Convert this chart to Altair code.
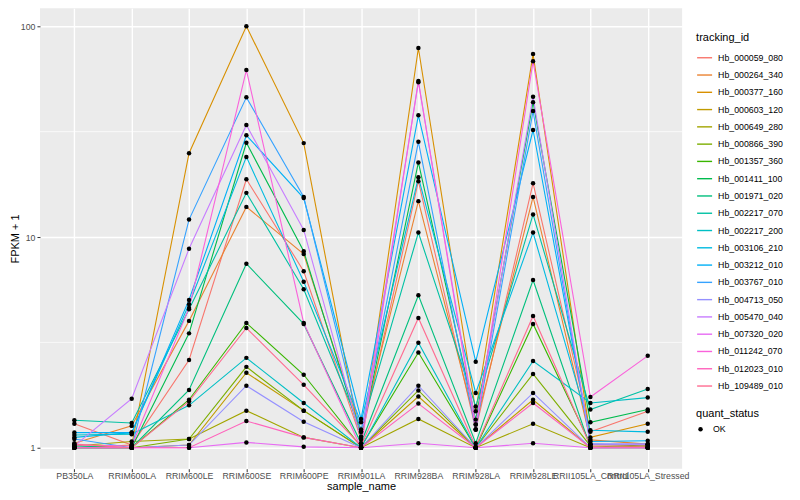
import altair as alt
import pandas as pd

samples = ["PB350LA", "RRIM600LA", "RRIM600LE", "RRIM600SE", "RRIM600PE", "RRIM901LA",
           "RRIM928BA", "RRIM928LA", "RRIM928LE", "RRII105LA_Control", "RRII105LA_Stressed"]

genes = ["Hb_000059_080", "Hb_000264_340", "Hb_000377_160", "Hb_000603_120", "Hb_000649_280",
         "Hb_000866_390", "Hb_001357_360", "Hb_001411_100", "Hb_001971_020", "Hb_002217_070",
         "Hb_002217_200", "Hb_003106_210", "Hb_003212_010", "Hb_003767_010", "Hb_004713_050",
         "Hb_005470_040", "Hb_007320_020", "Hb_011242_070", "Hb_012023_010", "Hb_109489_010"]

colors = ["#F8766D", "#EA8331", "#D89000", "#C09B00", "#A3A500", "#7CAE00", "#39B600", "#00BB4E",
          "#00BF7D", "#00C1A3", "#00BFC4", "#00BAE0", "#00B0F6", "#35A2FF", "#9590FF", "#C77CFF",
          "#E76BF3", "#FA62DB", "#FF62BC", "#FF6C91"]

# FPKM + 1 per sample (same order as samples)
hb_000059_080 = [1.30, 1.03, 2.61, 18.8, 6.88, 1.10, 18.4, 1.22, 18.0, 1.19, 1.49]
hb_000264_340 = [1.05, 1.27, 4.00, 13.9, 8.30, 1.19, 14.8, 1.29, 15.5, 1.09, 1.04]
hb_000377_160 = [1.00, 1.03, 25.0, 100.0, 27.9, 1.05, 78.9, 1.49, 73.8, 1.12, 1.30]
hb_000603_120 = [1.00, 1.00, 1.03, 2.27, 1.50, 1.00, 1.75, 1.00, 1.69, 1.00, 1.02]
hb_000649_280 = [1.02, 1.07, 1.10, 1.50, 1.12, 1.00, 1.37, 1.00, 1.30, 1.00, 1.00]
hb_000866_390 = [1.00, 1.00, 1.10, 2.42, 1.50, 1.00, 1.87, 1.00, 2.24, 1.02, 1.00]
hb_001357_360 = [1.00, 1.00, 1.69, 3.91, 2.22, 1.01, 2.83, 1.00, 3.87, 1.04, 1.02]
hb_001411_100 = [1.00, 1.00, 3.49, 28.0, 8.56, 1.13, 22.6, 1.36, 43.6, 1.32, 1.52]
hb_001971_020 = [1.02, 1.00, 1.88, 7.47, 3.87, 1.05, 5.29, 1.05, 6.25, 1.00, 1.00]
hb_002217_070 = [1.35, 1.31, 4.54, 16.2, 5.65, 1.22, 10.5, 1.57, 12.8, 1.52, 1.90]
hb_002217_200 = [1.15, 1.16, 1.59, 2.67, 1.63, 1.00, 3.15, 1.00, 2.58, 1.63, 1.73]
hb_003106_210 = [1.12, 1.18, 4.80, 24.0, 6.14, 1.32, 19.2, 1.82, 10.5, 1.21, 1.19]
hb_003212_010 = [1.18, 1.18, 5.03, 30.4, 15.3, 1.37, 37.8, 2.56, 32.2, 1.07, 1.08]
hb_003767_010 = [1.10, 1.00, 12.1, 46.0, 15.5, 1.19, 28.3, 1.22, 39.6, 1.04, 1.04]
hb_004713_050 = [1.00, 1.00, 1.03, 1.97, 1.33, 1.00, 1.97, 1.00, 1.82, 1.00, 1.00]
hb_005470_040 = [1.02, 1.71, 8.80, 34.0, 10.8, 1.10, 54.3, 1.29, 46.3, 1.04, 1.04]
hb_007320_020 = [1.00, 1.00, 1.00, 1.06, 1.01, 1.00, 1.05, 1.00, 1.05, 1.00, 1.00]
hb_011242_070 = [1.03, 1.02, 4.60, 62.0, 3.91, 1.00, 55.0, 1.22, 68.2, 1.74, 2.73]
hb_012023_010 = [1.00, 1.00, 1.00, 1.34, 1.12, 1.00, 1.62, 1.00, 1.63, 1.00, 1.00]
hb_109489_010 = [1.04, 1.00, 1.66, 3.70, 1.99, 1.02, 4.13, 1.01, 4.22, 1.02, 1.02]

series = [hb_000059_080, hb_000264_340, hb_000377_160, hb_000603_120, hb_000649_280,
          hb_000866_390, hb_001357_360, hb_001411_100, hb_001971_020, hb_002217_070,
          hb_002217_200, hb_003106_210, hb_003212_010, hb_003767_010, hb_004713_050,
          hb_005470_040, hb_007320_020, hb_011242_070, hb_012023_010, hb_109489_010]

y_ticks = [1, 10, 100]
y_minor = [10 ** 0.5, 10 ** 1.5]

rows = []
for g, vals in zip(genes, series):
    for s, v in zip(samples, vals):
        rows.append({"tracking_id": g, "sample_name": s, "value": v, "quant_status": "OK"})
df = pd.DataFrame(rows)

FONT = "Liberation Sans"
ydom = [10 ** -0.0995, 10 ** 2.0853]

x_enc = alt.X("sample_name:N", sort=samples,
              scale=alt.Scale(type="point", padding=0.6),
              axis=alt.Axis(title="sample_name", grid=True, gridColor="white", gridWidth=1.4,
                            domain=False, tickColor="#333333", tickSize=3, labelPadding=0,
                            labelAngle=0, labelColor="#4D4D4D", labelFontSize=8.8,
                            titleFontSize=11, titleColor="black", titleFontWeight="normal",
                            titlePadding=0))
y_scale = alt.Scale(type="log", domain=ydom, nice=False, clamp=False)
y_enc = alt.Y("value:Q", scale=y_scale,
              axis=alt.Axis(title="FPKM + 1", values=y_ticks, format="d", grid=True,
                            gridColor="white", gridWidth=1.4, domain=False, tickColor="#333333",
                            tickSize=3, labelPadding=2, labelColor="#4D4D4D", labelFontSize=8.8,
                            titleFontSize=11, titleColor="black", titleFontWeight="normal",
                            titlePadding=0))

minor = alt.Chart(pd.DataFrame({"m": y_minor})).mark_rule(color="white", strokeWidth=0.7).encode(
    y=alt.Y("m:Q", scale=y_scale))

lines = alt.Chart(df).mark_line(strokeWidth=1.1).encode(
    x=x_enc, y=y_enc,
    color=alt.Color("tracking_id:N", scale=alt.Scale(domain=genes, range=colors),
                    legend=alt.Legend(title="tracking_id", orient="none", legendX=657, legendY=24,
                                      symbolType="stroke", symbolSize=225, symbolStrokeWidth=1.4,
                                      rowPadding=3.3, labelFontSize=8.8, labelOffset=5,
                                      titleFontSize=11, titleFontWeight="normal", titlePadding=6,
                                      padding=0, labelColor="black", titleColor="black")),
    detail="tracking_id:N")

points = alt.Chart(df).mark_point(filled=True, size=20, color="black", opacity=1).encode(
    x=alt.X("sample_name:N", sort=samples), y=alt.Y("value:Q"),
    shape=alt.Shape("quant_status:N", scale=alt.Scale(range=["circle"]),
                    legend=alt.Legend(title="quant_status", orient="none", legendX=657, legendY=400,
                                      symbolFillColor="black", symbolStrokeColor="black",
                                      symbolSize=20, labelFontSize=8.8, labelOffset=8,
                                      titleFontSize=11, titleFontWeight="normal", titlePadding=6,
                                      padding=0, labelColor="black", titleColor="black")))

chart = alt.layer(minor, lines, points).properties(
    width=643, height=461,
    autosize=alt.AutoSizeParams(type="none"),
    padding={"left": 32, "top": 0, "right": 110, "bottom": 23},
).configure(font=FONT).configure_view(fill="#EBEBEB", stroke=None)

chart.save("out.html", embed_options={"renderer": "svg", "actions": False})
